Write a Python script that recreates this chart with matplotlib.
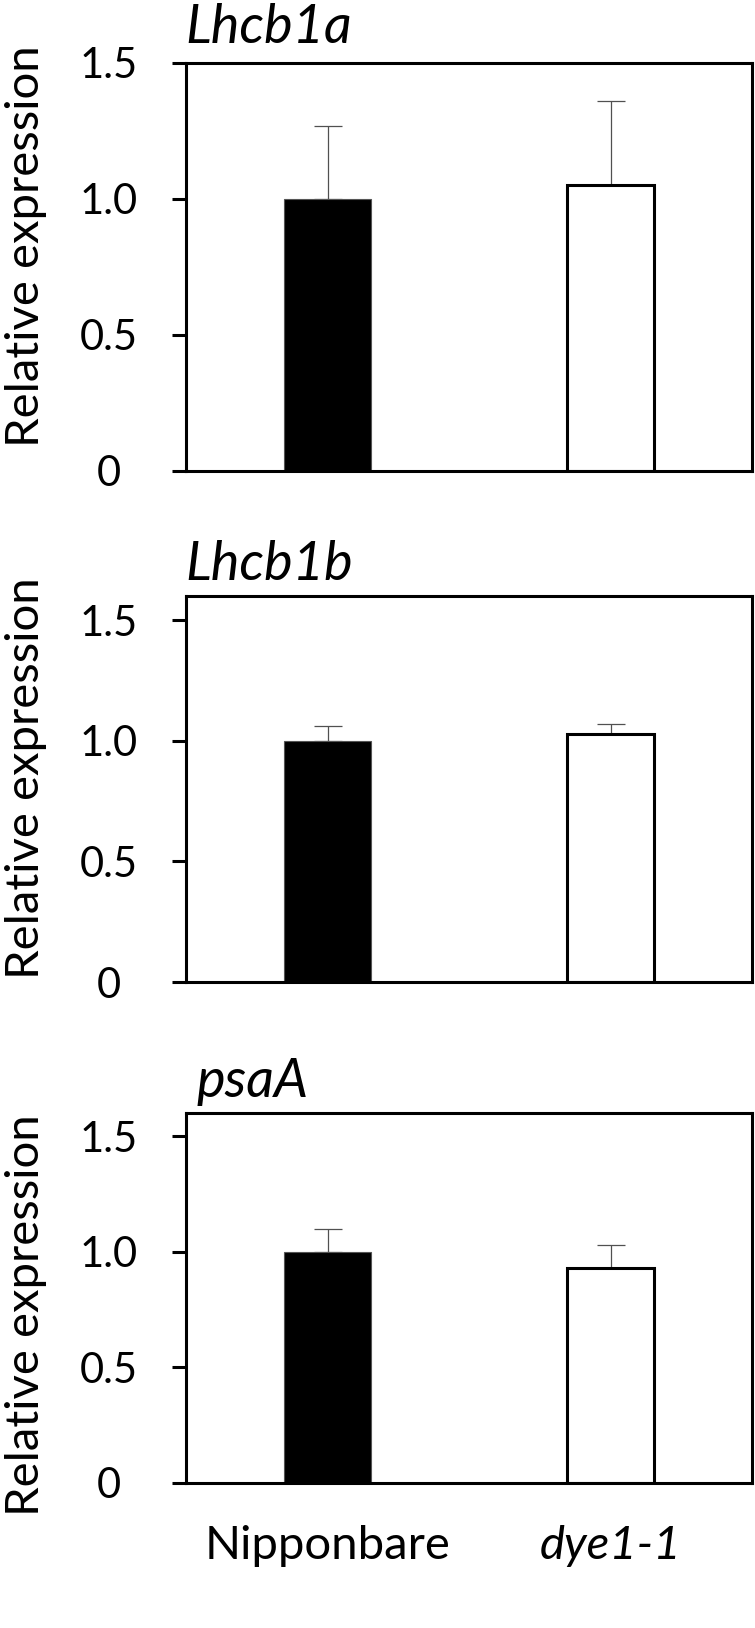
import matplotlib
matplotlib.use("Agg")
import matplotlib.pyplot as plt

plt.rcParams['font.family'] = ['Lato', 'DejaVu Sans']

# ---- data ----
genotypes = ["Nipponbare", "dye1-1"]
genes = ["Lhcb1a", "Lhcb1b", "psaA"]
lhcb1a_mean = [1.00, 1.05]
lhcb1a_err = [0.27, 0.31]
lhcb1b_mean = [1.00, 1.03]
lhcb1b_err = [0.06, 0.04]
psaa_mean = [1.00, 0.93]
psaa_err = [0.10, 0.10]
yticks = [0, 0.5, 1.0, 1.5]
ytick_labels = ["0", "0.5", "1.0", "1.5"]
ymax = [1.5, 1.6, 1.6]

means = [lhcb1a_mean, lhcb1b_mean, psaa_mean]
errs = [lhcb1a_err, lhcb1b_err, psaa_err]

W, H = 755, 1628
fig = plt.figure(figsize=(W / 100, H / 100), dpi=100)

# axes boxes in pixels: (left, top, right, bottom)
boxes = [(186, 63, 752, 471), (186, 596, 752, 982), (186, 1113, 752, 1483)]
title_pos = [(185, 43), (185, 580), (197, 1097)]
ylabel_center = [246, 778, 1315]

LW = 2.2
for i, (l, t, r, b) in enumerate(boxes):
    ax = fig.add_axes([l / W, 1 - b / H, (r - l) / W, (b - t) / H])
    x = [0, 1]
    ax.bar(x, means[i], width=0.31, color=['black', 'white'],
           edgecolor=['#555555', 'black'], linewidth=[0.8, LW], zorder=2)
    ax.errorbar(x, means[i], yerr=[[0, 0], errs[i]], fmt='none',
                ecolor='#505050', elinewidth=0.9, capsize=10.4,
                capthick=0.9, zorder=1)
    ax.set_xlim(-0.5, 1.5)
    ax.set_ylim(0, ymax[i])
    ax.set_yticks(yticks)
    ax.set_yticklabels(ytick_labels, fontsize=30)
    for tl in ax.get_yticklabels():
        tl.set_horizontalalignment('center')
    ax.tick_params(axis='y', direction='out', length=10.3, width=LW, pad=45.5)
    for sp in ax.spines.values():
        sp.set_linewidth(LW)
    if i == 2:
        ax.set_xticks(x)
        ax.set_xticklabels(genotypes, fontsize=34)
        ax.get_xticklabels()[1].set_style('italic')
        ax.tick_params(axis='x', length=0, pad=30)
    else:
        ax.set_xticks([])
    tx, ty = title_pos[i]
    fig.text(tx / W, 1 - ty / H, genes[i], fontsize=39, style='italic',
             ha='left', va='baseline')
    fig.text(5 / W, 1 - ylabel_center[i] / H, "Relative expression",
             fontsize=34, rotation=90, ha='left', va='center')

fig.savefig("out.png", dpi=100)
